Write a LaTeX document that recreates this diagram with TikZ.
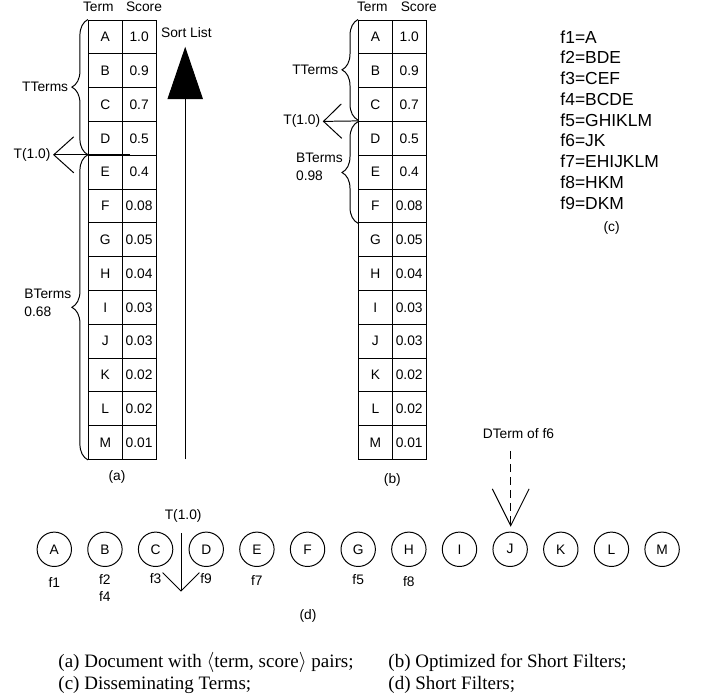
\documentclass[tikz,border=0pt]{standalone}
\usepackage{fontspec}
\setmainfont{Liberation Sans}
\newfontfamily\capfont{Liberation Serif}
\usetikzlibrary{arrows.meta,decorations.pathreplacing}

\begin{document}
\begin{tikzpicture}[line width=0.7pt,font=\fontsize{9.8}{12.8}\selectfont,
  cell/.style={draw,minimum width=0.845cm,minimum height=0.845cm,inner sep=0pt},
  brc/.style={decorate,decoration={brace,amplitude=0.4cm}},
  term/.style={draw,circle,minimum size=0.86cm,inner sep=0pt},
  flist/.style={anchor=west,inner sep=0pt,font=\fontsize{12.4}{14}\selectfont},
  legend/.style={anchor=base west,inner sep=0pt,font=\capfont\fontsize{13.5}{16}\selectfont}]
\useasboundingbox (0,0) rectangle (17.6,17.45);
\node (hTa) at (2.46,17.27) {Term};
\node (hSa) at (3.60,17.27) {Score};
\node (hTb) at (9.31,17.27) {Term};
\node (hSb) at (10.47,17.27) {Score};
\foreach \t/\s [count=\i] in {A/1.0,B/0.9,C/0.7,D/0.5,E/0.4,F/0.08,G/0.05,H/0.04,I/0.03,J/0.03,K/0.02,L/0.02,M/0.01}{
  \node[cell] (aT\i) at (2.6325,17.3725-0.845*\i) {\t};
  \node[cell] (aS\i) at (3.4775,17.3725-0.845*\i) {\s};
  \node[cell] (bT\i) at (9.385,17.3725-0.845*\i) {\t};
  \node[cell] (bS\i) at (10.23,17.3725-0.845*\i) {\s};
}
\draw[brc] (aT5.north west) -- (aT1.north west) node[midway,left=0.43cm,inner sep=1.5pt] (ttA) {TTerms};
\draw[brc] (aT13.south west) -- (aT5.north west);
\node[anchor=west,align=left,inner sep=0pt] (btA) at (0.6,9.875) {BTerms\\0.68};
\node[left,inner sep=1.5pt] (tlA) at (1.325,13.58) {T(1.0)};
\coordinate (tA) at (3.25,13.58);
\draw[-{Straight Barb[length=0.5cm,width=0.9cm]}] (tA) -- (tlA.east);
\coordinate (sB) at (4.63,5.965);
\coordinate (sT) at (4.63,16.28);
\node (sl) at (4.66,16.64) {Sort List};
\draw[-{Triangle[length=1.31cm,width=0.885cm]}] (sB) -- (sT);
\node (capA) at (2.925,5.53) {(a)};
\draw[brc] ([yshift=0.02cm]bT4.north west) -- (bT1.north west) node[midway,left=0.43cm,inner sep=1.5pt] (ttB) {TTerms};
\draw[brc] (bT6.south west) -- ([yshift=-0.02cm]bT4.north west);
\node[anchor=west,align=left,inner sep=0pt] (btB) at (7.39,13.275) {BTerms\\0.98};
\node[left,inner sep=1.5pt] (tlB) at (8.07,14.415) {T(1.0)};
\draw[-{Straight Barb[length=0.45cm,width=0.86cm]}] (bT4.north west) -- (tlB.east);
\node (capB) at (9.81,5.45) {(b)};
\foreach \f [count=\k] in {A,BDE,CEF,BCDE,GHIKLM,JK,EHIJKLM,HKM,DKM}
  \node[flist] (f\k) at (14.0,17.0525-0.52*\k) {f\k=\f};
\node (capC) at (15.29,11.74) {(c)};
\foreach \t [count=\k] in {A,B,C,D,E,F,G,H,I,J,K,L,M}
  \node[term] (c\t) at (0.09125+1.26625*\k,3.7175) {\t};
\node (lf1) at (1.3575,2.875) {f1};
\node (lf2) at (2.62,2.965) {f2};
\node (lf4) at (2.62,2.53) {f4};
\node (lf3) at (3.89,2.98) {f3};
\node (lf9) at (5.15,2.98) {f9};
\node (lf7) at (6.42,2.94) {f7};
\node (lf5) at (8.955,2.965) {f5};
\node (lf8) at (10.22,2.91) {f8};
\node (td) at (4.58,4.55) {T(1.0)};
\coordinate (tdT) at (4.525,4.1175);
\coordinate (tdB) at (4.525,2.6575);
\draw[-{Straight Barb[length=0.46cm,width=0.92cm]}] (tdT) -- (tdB);
\node (dt) at (12.96,6.6) {DTerm of f6};
\coordinate (dB) at (12.7675,6.18);
\coordinate (dJ) at (12.7675,4.28);
\draw[dash pattern=on 0.2cm off 0.125cm,-{Straight Barb[length=0.92cm,width=0.92cm]}] (dB) -- (dJ);
\node (capD) at (7.7,2.05) {(d)};
\node[legend] (lgA) at (1.45,0.775) {(a) Document with $\langle$term, score$\rangle$ pairs;};
\node[legend] (lgB) at (9.7,0.775) {(b) Optimized for Short Filters;};
\node[legend] (lgC) at (1.45,0.225) {(c) Disseminating Terms;};
\node[legend] (lgD) at (9.7,0.225) {(d) Short Filters;};
\end{tikzpicture}
\end{document}
